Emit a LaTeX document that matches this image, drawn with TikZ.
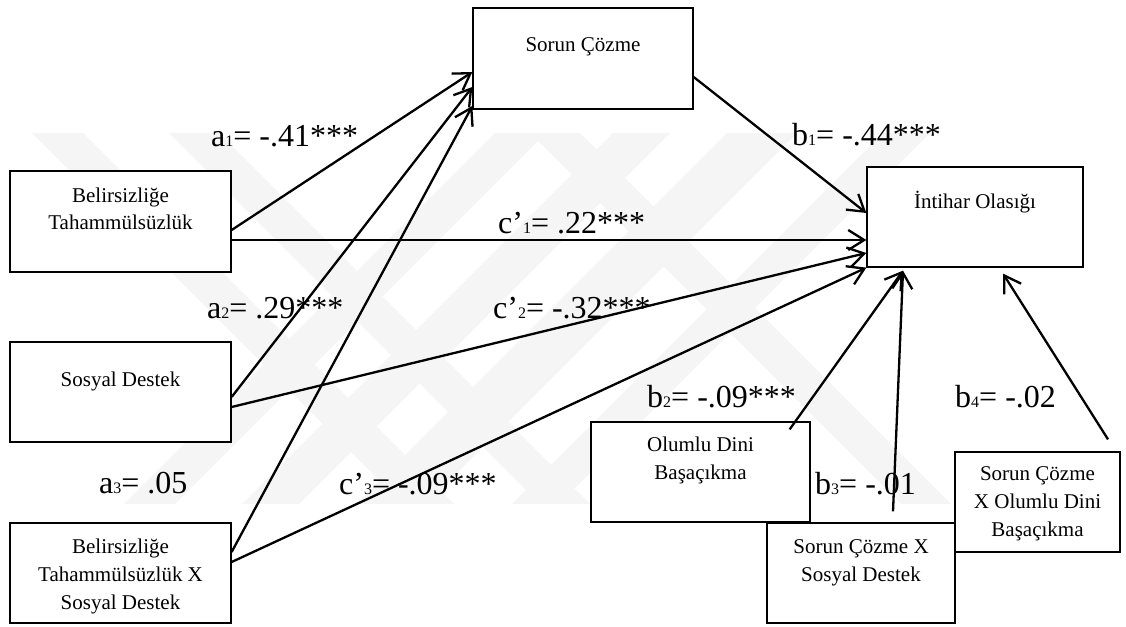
\documentclass[tikz,border=0pt]{standalone}
\usepackage{fontspec}
\setmainfont{Liberation Serif}
\usetikzlibrary{arrows.meta}
\newcommand{\ix}[1]{{\fontsize{16}{16}\selectfont #1}}
\begin{document}
\begin{tikzpicture}[x=1pt,y=-1pt,
  box/.style={draw, line width=1.3pt, fill=white, inner sep=0pt},
  boxtext/.style={anchor=base, inner sep=0pt, font=\fontsize{21}{28}\selectfont},
  lbl/.style={anchor=base west, inner sep=0pt, font=\fontsize{32}{36}\selectfont},
  conn/.style={line width=2.3pt, line join=miter,
    -{Straight Barb[length=16pt,width=20pt,line width=2.3pt]}},
  band/.style={fill=gray!8, draw=none}]
\useasboundingbox (0,0) rectangle (1126,626);

% faint striped emblem in the background
\begin{scope}
  \clip (0,133) rectangle (1126,503);
  \foreach \a/\b in {32/83, 169/219, 530/580}
    \fill[band] (\a-40,93) -- (\b-40,93) -- (\b+420,553) -- (\a+420,553) -- cycle;
  \foreach \a/\b in {495/546, 613/670, 727/797, 883/930}
    \fill[band] (\a+40,93) -- (\b+40,93) -- (\b-420,553) -- (\a-420,553) -- cycle;
\end{scope}

% boxes
\node[box, minimum width=220pt, minimum height=101pt] (sc)    at (583,58.5)  {};
\node[box, minimum width=221pt, minimum height=101pt] (bt)    at (120.5,221.5) {};
\node[box, minimum width=221pt, minimum height=100pt] (sd)    at (120.5,392) {};
\node[box, minimum width=221pt, minimum height=100pt] (btsd)  at (120.5,573) {};
\node[box, minimum width=216pt, minimum height=100pt] (io)    at (975,217)   {};
\node[box, minimum width=219pt, minimum height=100pt] (odb)   at (700.5,472) {};
\node[box, minimum width=188pt, minimum height=100pt] (scsd)  at (861,573)   {};
\node[box, minimum width=165pt, minimum height=100pt] (scodb) at (1037.5,502) {};

% box texts
\node[boxtext] (sc-t)   at (583,52)    {Sorun Çözme};
\node[boxtext] (bt-t1)  at (120.5,202) {Belirsizliğe};
\node[boxtext] (bt-t2)  at (120.5,229) {Tahammülsüzlük};
\node[boxtext] (sd-t)   at (120.5,386) {Sosyal Destek};
\node[boxtext] (btsd-t1) at (120.5,553) {Belirsizliğe};
\node[boxtext] (btsd-t2) at (120.5,581) {Tahammülsüzlük X};
\node[boxtext] (btsd-t3) at (120.5,609) {Sosyal Destek};
\node[boxtext] (io-t)   at (975,208)   {İntihar Olasığı};
\node[boxtext] (odb-t1) at (700.5,451) {Olumlu Dini};
\node[boxtext] (odb-t2) at (700.5,479) {Başaçıkma};
\node[boxtext] (scsd-t1) at (861,553)  {Sorun Çözme X};
\node[boxtext] (scsd-t2) at (861,581)  {Sosyal Destek};
\node[boxtext] (scodb-t1) at (1037.5,480) {Sorun Çözme};
\node[boxtext] (scodb-t2) at (1037.5,508) {X Olumlu Dini};
\node[boxtext] (scodb-t3) at (1037.5,536) {Başaçıkma};

% paths
\draw[conn] ([yshift=-8.5pt]bt.east)  -- ([yshift=-13.5pt]sc.west);
\draw[conn] ([yshift=-5pt]sd.east)    -- ([yshift=-28.5pt]sc.west);
\draw[conn] ([yshift=21pt]btsd.east)  -- ([yshift=-47.5pt]sc.west);
\draw[conn] ([yshift=-18.5pt]sc.east) -- ([yshift=4pt]io.west);
\draw[conn] ([yshift=-18.5pt]bt.east) -- ([yshift=-23pt]io.west);
\draw[conn] ([yshift=-15pt]sd.east)   -- ([yshift=-36pt]io.west);
\draw[conn] ([yshift=11pt]btsd.east)  -- (io.south west);
\draw[conn] ([xshift=-21pt,yshift=-8pt]odb.north east) -- ([xshift=-72pt,yshift=-3pt]io.south);
\draw[conn] ([xshift=32pt,yshift=11pt]scsd.north)      -- ([xshift=-72pt,yshift=-3pt]io.south);
\draw[conn] ([xshift=70.5pt,yshift=12pt]scodb.north)   -- ([xshift=28pt,yshift=-6pt]io.south);

% coefficients
\node[lbl] (la1) at (211,146) {a\ix{1}= -.41***};
\node[lbl] (lb1) at (792,145) {b\ix{1}= -.44***};
\node[lbl] (lc1) at (498,233) {c’\ix{1}= .22***};
\node[lbl] (la2) at (207,318) {a\ix{2}= .29***};
\node[lbl] (lc2) at (493,318) {c’\ix{2}= -.32***};
\node[lbl] (la3) at (99,493)  {a\ix{3}= .05};
\node[lbl] (lc3) at (339,494) {c’\ix{3}= -.09***};
\node[lbl] (lb2) at (647,407) {b\ix{2}= -.09***};
\node[lbl] (lb4) at (955,407) {b\ix{4}= -.02};
\node[lbl] (lb3) at (815,494) {b\ix{3}= -.01};
\end{tikzpicture}
\end{document}
